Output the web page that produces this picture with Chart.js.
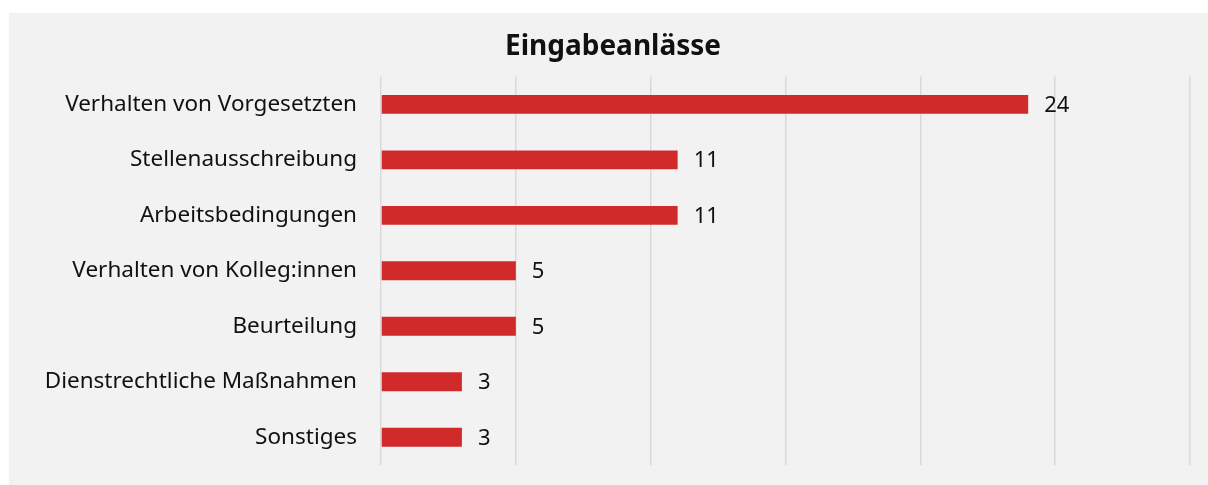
<!DOCTYPE html>
<html>
<head>
<meta charset="utf-8">
<script src="https://cdn.jsdelivr.net/npm/chart.js@4"></script>
<style>
  body { margin: 0; background: #fff; }
  #wrap { position: absolute; left: 9px; top: 13px; width: 1199px; height: 472px; background: #f2f2f2; }
</style>
</head>
<body>
<div id="wrap"><canvas id="chart" width="1199" height="472"></canvas></div>
<script>
const categories = [
  "Verhalten von Vorgesetzten",
  "Stellenausschreibung",
  "Arbeitsbedingungen",
  "Verhalten von Kolleg:innen",
  "Beurteilung",
  "Dienstrechtliche Maßnahmen",
  "Sonstiges",
];
const counts = [24, 11, 11, 5, 5, 3, 3];

const FONT = "'Noto Sans', sans-serif";

// value labels to the right of each bar
const valueLabels = {
  id: "valueLabels",
  afterDatasetsDraw(chart) {
    const c = chart.ctx;
    const meta = chart.getDatasetMeta(0);
    c.save();
    c.font = "22px " + FONT;
    c.fillStyle = "#111";
    c.textBaseline = "middle";
    c.textAlign = "left";
    meta.data.forEach((bar, i) => {
      c.fillText(String(counts[i]), bar.x + 16, bar.y + 1);
    });
    c.restore();
  },
};

new Chart(document.getElementById("chart"), {
  type: "bar",
  data: {
    labels: categories,
    datasets: [
      {
        data: counts,
        backgroundColor: "#d12a2a",
        barPercentage: 0.68,
        categoryPercentage: 0.5,
      },
    ],
  },
  options: {
    indexAxis: "y",
    responsive: false,
    animation: false,
    layout: { padding: { left: 27, right: 18, top: 0, bottom: 20 } },
    plugins: {
      legend: { display: false },
      tooltip: { enabled: false },
      title: {
        display: true,
        text: "Eingabeanlässe",
        color: "#111",
        font: { family: FONT, size: 28, weight: "bold" },
        padding: { top: 17, bottom: 13 },
      },
    },
    scales: {
      x: {
        min: 0,
        max: 30,
        ticks: { display: false, stepSize: 5 },
        grid: { color: "#d9d9d9", lineWidth: 1.5, drawTicks: false },
        border: { display: false },
        afterFit(scale) { scale.height = 0; },
      },
      y: {
        ticks: { color: "#111", font: { family: FONT, size: 22.5 }, padding: 24 },
        grid: { display: false, drawTicks: false },
        border: { display: false },
        afterFit(scale) {
          scale.width = 345;
          scale.paddingTop = 0;
          scale.paddingBottom = 0;
        },
      },
    },
  },
  plugins: [valueLabels],
});
</script>
</body>
</html>
